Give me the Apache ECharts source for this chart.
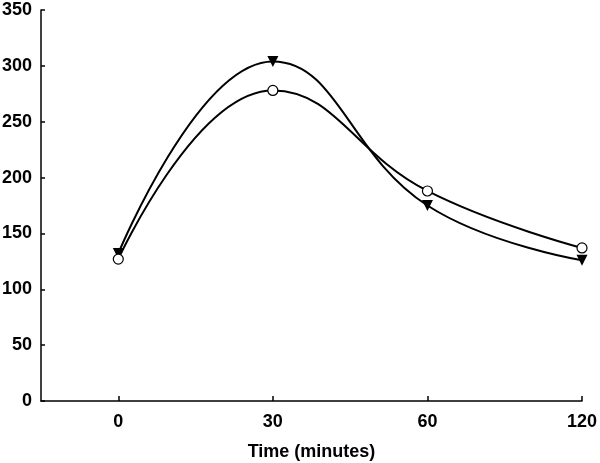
<!DOCTYPE html>
<html>
<head>
<meta charset="utf-8">
<script src="https://cdn.jsdelivr.net/npm/echarts@6/dist/echarts.min.js"></script>
<style>
  html, body { margin: 0; padding: 0; background: #fff; }
  #chart { width: 600px; height: 463px; }
</style>
</head>
<body>
<div id="chart"></div>
<script>
const timeLabels = ['0', '30', '60', '120']
const filledTriangle = [132, 304, 175, 126]
const openCircle = [127, 278, 188, 137]
const yTicks = [0, 50, 100, 150, 200, 250, 300, 350]

const positions = timeLabels.map((_, i) => i)
const toPoints = (values) => values.map((v, i) => [i, v])
const font = 'Liberation Sans, Arial, sans-serif'

const chart = echarts.init(document.getElementById('chart'))

chart.setOption({
  animation: false,
  grid: { left: 41, right: 18, top: 10, bottom: 62, outerBoundsMode: 'none', containLabel: false },
  xAxis: {
    type: 'value',
    min: -0.5,
    max: 3,
    name: 'Time (minutes)',
    nameLocation: 'middle',
    nameGap: 42,
    nameTextStyle: { fontFamily: font, fontWeight: 'bold', fontSize: 18, color: '#000' },
    splitLine: { show: false },
    axisLine: { onZero: false, lineStyle: { color: '#000', width: 1.5 } },
    axisTick: {
      inside: true,
      length: 5,
      customValues: positions,
      lineStyle: { color: '#000', width: 1.5 },
    },
    axisLabel: {
      customValues: positions,
      margin: 12,
      fontFamily: font,
      fontWeight: 'bold',
      fontSize: 18,
      color: '#000',
      formatter: (v) => timeLabels[Math.round(v)] ?? '',
    },
  },
  yAxis: {
    type: 'value',
    min: yTicks[0],
    max: yTicks[yTicks.length - 1],
    interval: 50,
    splitLine: { show: false },
    axisLine: { show: true, onZero: false, lineStyle: { color: '#000', width: 1.5 } },
    axisTick: { show: true, inside: true, length: 4, lineStyle: { color: '#000', width: 1.5 } },
    axisLabel: {
      margin: 9,
      fontFamily: font,
      fontWeight: 'bold',
      fontSize: 18,
      color: '#000',
    },
  },
  series: [
    {
      type: 'line',
      data: toPoints(filledTriangle),
      smooth: 0.45,
      symbol: 'triangle',
      symbolRotate: 180,
      symbolSize: 11,
      itemStyle: { color: '#000' },
      lineStyle: { color: '#000', width: 2 },
      z: 3,
    },
    {
      type: 'line',
      data: toPoints(openCircle),
      smooth: 0.45,
      symbol: 'circle',
      symbolSize: 10,
      itemStyle: { color: '#fff', borderColor: '#000', borderWidth: 1.2 },
      lineStyle: { color: '#000', width: 2 },
      z: 4,
    },
  ],
})
</script>
</body>
</html>
